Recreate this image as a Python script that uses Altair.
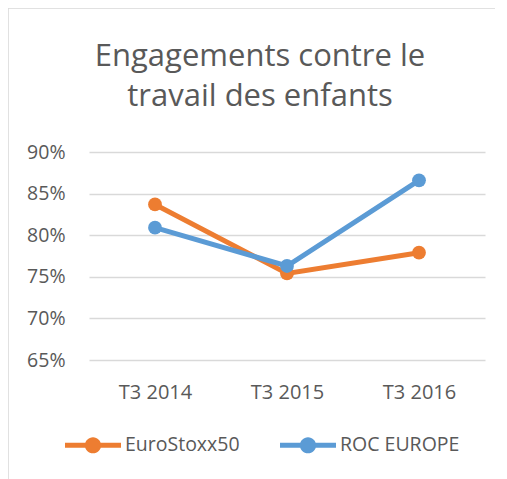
import altair as alt
import pandas as pd

quarters = ["T3 2014", "T3 2015", "T3 2016"]
series_names = ["EuroStoxx50", "ROC EUROPE"]
eurostoxx50 = [0.837, 0.754, 0.779]
roc_europe = [0.809, 0.763, 0.866]
y_ticks = [0.65, 0.70, 0.75, 0.80, 0.85, 0.90]
colors = ["#ED7D31", "#5B9BD5"]

rows = []
for name, vals in zip(series_names, [eurostoxx50, roc_europe]):
    for q, v in zip(quarters, vals):
        rows.append({"quarter": q, "series": name, "value": v})
df = pd.DataFrame(rows)

FONT = "Open Sans"
GREY = "#595959"

color = alt.Color(
    "series:N",
    scale=alt.Scale(domain=series_names, range=colors),
    legend=alt.Legend(title=None),
)

base = alt.Chart(df).encode(
    x=alt.X(
        "quarter:N",
        sort=quarters,
        title=None,
        axis=alt.Axis(
            labelAngle=0, grid=False, domain=False, ticks=False,
            labelFontSize=20, labelColor=GREY, labelFont=FONT, labelPadding=22,
        ),
    ),
    y=alt.Y(
        "value:Q",
        title=None,
        scale=alt.Scale(domain=[0.65, 0.90], nice=False, zero=False),
        axis=alt.Axis(
            values=y_ticks, format=".0%", grid=True, gridColor="#D9D9D9",
            gridWidth=1.3, domain=False, ticks=False, labelFontSize=19.5,
            labelColor=GREY, labelFont=FONT, labelPadding=24,
        ),
    ),
    color=color,
)

layers = []
for name in series_names:
    sub = base.transform_filter(alt.datum.series == name)
    layers.append(sub.mark_line(strokeWidth=5))
    layers.append(sub.mark_point(filled=True, size=190, opacity=1))

border_top = alt.Chart(df).mark_rule(color="#D9D9D9", strokeWidth=1.5).encode(
    x=alt.value(-82), x2=alt.value(420), y=alt.value(-144.5)
)
border_left = alt.Chart(df).mark_rule(color="#D9D9D9", strokeWidth=1.5).encode(
    x=alt.value(-81.5), y=alt.value(-145), y2=alt.value(330)
)

legend_path = (
    "M-1,-0.09H1V0.09H-1Z "
    "M-0.29,0A0.29,0.29 0 1,1 0.29,0A0.29,0.29 0 1,1 -0.29,0Z"
)

chart = alt.layer(border_top, border_left, *layers).properties(
    width=396,
    height=208,
    autosize=alt.AutoSizeParams(type="none"),
    padding={"left": 81, "top": 144, "right": 10, "bottom": 119},
    title=alt.TitleParams(
        text=["Engagements contre le", "travail des enfants"],
        fontSize=31, font=FONT, color=GREY, fontWeight="normal",
        anchor="middle", dx=-27, offset=-107, lineHeight=40,
    ),
).configure_view(stroke=None).configure_legend(
    orient="none", legendX=-24, legendY=265, direction="horizontal",
    symbolType=legend_path, symbolSize=3136, symbolStrokeWidth=0,
    labelFontSize=19.5, labelColor=GREY, labelFont=FONT, labelOffset=4,
    columnPadding=40, symbolOpacity=1,
)

chart.save("out.html", embed_options={"renderer": "svg", "actions": False})
